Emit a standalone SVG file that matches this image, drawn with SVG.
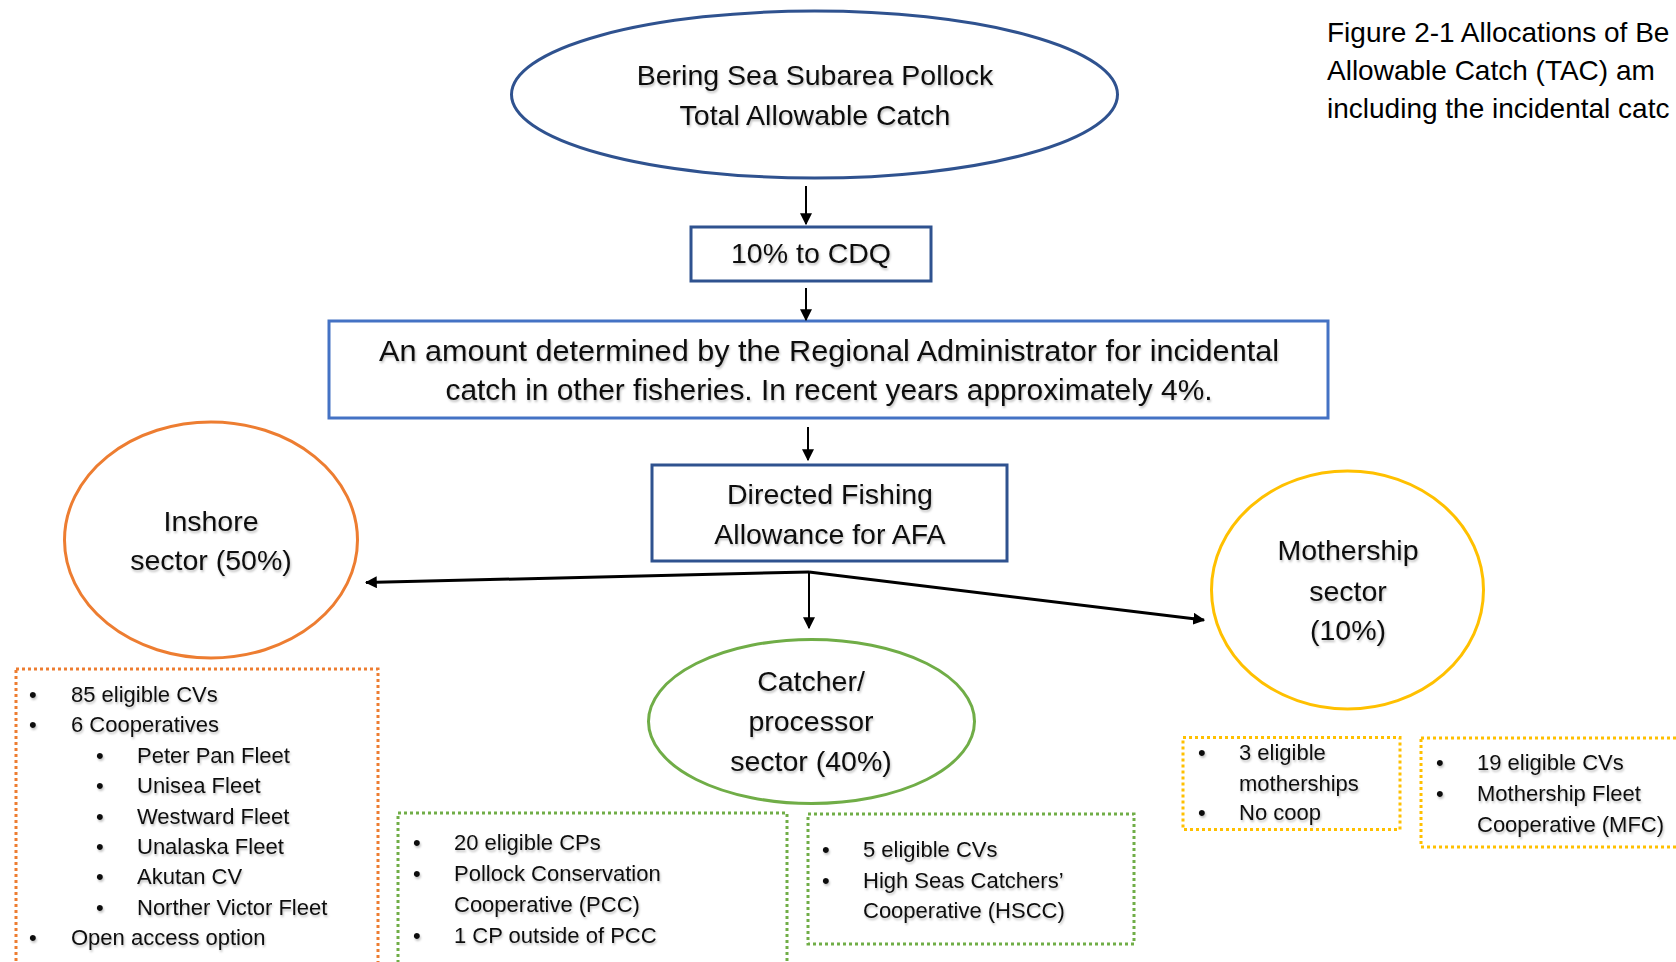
<svg xmlns="http://www.w3.org/2000/svg" width="1676" height="962" viewBox="0 0 1676 962">
<defs>
<marker id="ah" viewBox="0 0 10 10" refX="9" refY="5" markerWidth="4" markerHeight="4" markerUnits="strokeWidth" orient="auto"><path d="M0,0 L10,5 L0,10 Z" fill="#000"/></marker>
<marker id="ah2" viewBox="0 0 10 10" refX="9" refY="5" markerWidth="6" markerHeight="6" markerUnits="strokeWidth" orient="auto"><path d="M0,0 L10,5 L0,10 Z" fill="#000"/></marker>
<filter id="sh" x="-5%" y="-20%" width="110%" height="150%"><feDropShadow dx="1" dy="2" stdDeviation="1" flood-color="#000" flood-opacity="0.25"/></filter>
</defs>
<style>
text{font-family:"Liberation Sans",Arial,sans-serif;fill:#111}
.n{font-size:28.5px;text-anchor:middle;filter:url(#sh)}
.b{font-size:30px}
.l{font-size:22px;filter:url(#sh)}
.cap{font-size:28px;fill:#000}
.dk{fill:none;stroke:#2F528F;stroke-width:3}
.lt{fill:none;stroke:#4472C4;stroke-width:3}
.dot{fill:none;stroke-width:3;stroke-dasharray:3 3}
.c{fill:none;stroke:#000}
</style>
<rect width="1676" height="962" fill="#fff"/>
<g id="caption">
<text class="cap" x="1327" y="42">Figure 2-1 Allocations of Be</text>
<text class="cap" x="1327" y="80">Allowable Catch (TAC) am</text>
<text class="cap" x="1327" y="118">including the incidental catc</text>
</g>
<g id="tac">
<ellipse class="dk" cx="814.5" cy="94.5" rx="303" ry="83.5"/>
<text class="n" x="815" y="85">Bering Sea Subarea Pollock</text>
<text class="n" x="815" y="125">Total Allowable Catch</text>
</g>
<g id="cdq">
<rect class="dk" x="691" y="227" width="240" height="54"/>
<text class="n" x="811" y="263">10% to CDQ</text>
</g>
<g id="incidental">
<rect class="lt" x="329" y="321" width="999" height="97"/>
<text class="n b" x="829" y="361" textLength="900" lengthAdjust="spacingAndGlyphs">An amount determined by the Regional Administrator for incidental</text>
<text class="n b" x="829" y="400" textLength="767" lengthAdjust="spacingAndGlyphs">catch in other fisheries. In recent years approximately 4%.</text>
</g>
<g id="dfa">
<rect class="dk" x="652" y="465" width="355" height="96"/>
<text class="n" x="830" y="504">Directed Fishing</text>
<text class="n" x="830" y="544">Allowance for AFA</text>
</g>
<g id="inshore">
<ellipse fill="none" stroke="#ED7D31" stroke-width="3" cx="211" cy="540" rx="146.5" ry="118"/>
<text class="n" x="211" y="531">Inshore</text>
<text class="n" x="211" y="570">sector (50%)</text>
</g>
<g id="catcher">
<ellipse fill="none" stroke="#70AD47" stroke-width="3" cx="811.5" cy="721.5" rx="163" ry="82"/>
<text class="n" x="811" y="691">Catcher/</text>
<text class="n" x="811" y="731">processor</text>
<text class="n" x="811" y="771">sector (40%)</text>
</g>
<g id="mothership">
<ellipse fill="none" stroke="#FFC000" stroke-width="3" cx="1347.5" cy="590" rx="136" ry="119"/>
<text class="n" x="1348" y="560">Mothership</text>
<text class="n" x="1348" y="601">sector</text>
<text class="n" x="1348" y="640">(10%)</text>
</g>
<g id="inshore-list">
<rect class="dot" stroke="#ED7D31" x="16" y="669" width="362" height="300"/>
<g class="l">
<text x="29" y="702">•</text><text x="71" y="702">85 eligible CVs</text>
<text x="29" y="732">•</text><text x="71" y="732">6 Cooperatives</text>
<text x="96" y="763">•</text><text x="137" y="763">Peter Pan Fleet</text>
<text x="96" y="793">•</text><text x="137" y="793">Unisea Fleet</text>
<text x="96" y="824">•</text><text x="137" y="824">Westward Fleet</text>
<text x="96" y="854">•</text><text x="137" y="854">Unalaska Fleet</text>
<text x="96" y="884">•</text><text x="137" y="884">Akutan CV</text>
<text x="96" y="915">•</text><text x="137" y="915">Norther Victor Fleet</text>
<text x="29" y="945">•</text><text x="71" y="945">Open access option</text>
</g>
</g>
<g id="cp-list">
<rect class="dot" stroke="#70AD47" x="398" y="813" width="389" height="160"/>
<g class="l">
<text x="413" y="850">•</text><text x="454" y="850">20 eligible CPs</text>
<text x="413" y="881">•</text><text x="454" y="881">Pollock Conservation</text>
<text x="454" y="912">Cooperative (PCC)</text>
<text x="413" y="943">•</text><text x="454" y="943">1 CP outside of PCC</text>
</g>
</g>
<g id="cv-list">
<rect class="dot" stroke="#70AD47" x="808" y="814" width="326" height="130"/>
<g class="l">
<text x="822" y="857">•</text><text x="863" y="857">5 eligible CVs</text>
<text x="822" y="888">•</text><text x="863" y="888">High Seas Catchers’</text>
<text x="863" y="918">Cooperative (HSCC)</text>
</g>
</g>
<g id="ms-list">
<rect class="dot" stroke="#FFC000" x="1183" y="737.5" width="217" height="92"/>
<g class="l">
<text x="1198" y="760">•</text><text x="1239" y="760">3 eligible</text>
<text x="1239" y="791">motherships</text>
<text x="1198" y="820">•</text><text x="1239" y="820">No coop</text>
</g>
</g>
<g id="mfc-list">
<rect class="dot" stroke="#FFC000" x="1421" y="738" width="280" height="109"/>
<g class="l">
<text x="1436" y="770">•</text><text x="1477" y="770">19 eligible CVs</text>
<text x="1436" y="801">•</text><text x="1477" y="801">Mothership Fleet</text>
<text x="1477" y="832">Cooperative (MFC)</text>
</g>
</g>
<g id="connectors">
<line class="c" stroke-width="2" x1="806" y1="186" x2="806" y2="224" marker-end="url(#ah2)"/>
<line class="c" stroke-width="2" x1="806" y1="288" x2="806" y2="320" marker-end="url(#ah2)"/>
<line class="c" stroke-width="2" x1="808" y1="427" x2="808" y2="460" marker-end="url(#ah2)"/>
<line class="c" stroke-width="2" x1="809" y1="572" x2="809" y2="628" marker-end="url(#ah2)"/>
<line class="c" stroke-width="3" x1="809" y1="572" x2="366" y2="582.5" marker-end="url(#ah)"/>
<line class="c" stroke-width="3" x1="809" y1="572" x2="1204" y2="620" marker-end="url(#ah)"/>
</g>
</svg>
